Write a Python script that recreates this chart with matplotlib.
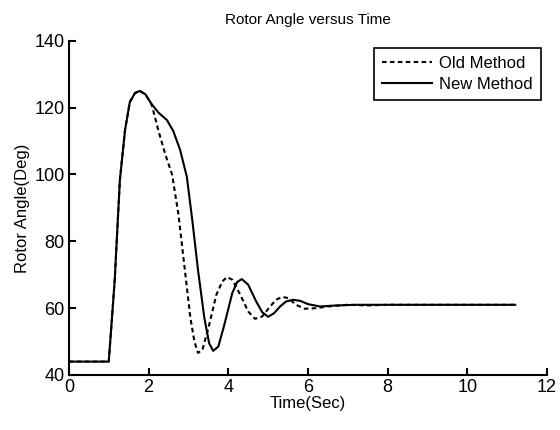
import matplotlib.pyplot as plt

# rotor angle (deg) vs time (sec)
t_old = [0.0, 1.0, 1.05, 1.15, 1.28, 1.41, 1.53, 1.66, 1.78, 1.92, 2.08, 2.25,
         2.42, 2.59, 2.75, 2.91, 3.05, 3.15, 3.24, 3.35, 3.5, 3.7, 3.85, 3.97,
         4.1, 4.3, 4.5, 4.67, 4.85, 5.05, 5.2, 5.35, 5.5, 5.7, 5.92, 6.2, 6.5,
         7.0, 7.5, 8.0, 9.0, 10.0, 11.2]
a_old = [44.0, 44.0, 52.0, 68.4, 98.4, 113.4, 121.7, 124.4, 125.0, 124.0, 120.8, 113.0,
         106.0, 100.0, 88.0, 71.4, 57.0, 50.0, 46.6, 47.5, 54.0, 64.0, 68.0, 69.3,
         68.5, 64.0, 59.0, 56.8, 57.5, 60.5, 62.5, 63.4, 63.0, 61.0, 59.8, 60.0, 60.5,
         61.0, 60.8, 61.0, 61.0, 61.0, 61.0]

t_new = [0.0, 1.0, 1.05, 1.15, 1.28, 1.41, 1.53, 1.66, 1.78, 1.92, 2.08, 2.25,
         2.46, 2.62, 2.79, 2.96, 3.1, 3.24, 3.4, 3.52, 3.62, 3.75, 3.9, 4.1,
         4.22, 4.34, 4.5, 4.7, 4.85, 5.0, 5.15, 5.3, 5.45, 5.62, 5.8, 6.0, 6.3,
         6.7, 7.2, 8.0, 9.0, 10.0, 11.2]
a_new = [44.0, 44.0, 52.0, 68.4, 98.4, 113.4, 121.7, 124.4, 125.0, 124.0, 121.0, 118.5,
         116.3, 113.0, 107.4, 99.3, 86.0, 71.4, 57.0, 49.5, 47.2, 48.5, 55.0, 64.5,
         67.8, 68.7, 67.0, 62.0, 58.8, 57.4, 58.5, 60.5, 62.0, 62.5, 62.2, 61.2, 60.5,
         60.8, 61.0, 61.0, 61.0, 61.0, 61.0]

plt.rcParams['font.family'] = ['Liberation Sans', 'DejaVu Sans']

fig = plt.figure(figsize=(5.6, 4.3), dpi=100)
ax = fig.add_axes([0.123, 0.128, 0.854, 0.777])

ax.plot(t_old, a_old, color='black', lw=1.5, ls=(0, (2.2, 1.6)), label='Old Method')
ax.plot(t_new, a_new, color='black', lw=1.5, ls='-', label='New Method')

ax.set_xlim(0, 12)
ax.set_ylim(40, 140)
ax.set_xticks(range(0, 13, 2))
ax.set_yticks(range(40, 141, 20))
ax.tick_params(labelsize=13, length=5, width=1.5, direction='in', pad=3)
for side in ('top', 'right'):
    ax.spines[side].set_visible(False)
for side in ('left', 'bottom'):
    ax.spines[side].set_linewidth(1.5)

ax.set_title('Rotor Angle versus Time', fontsize=11, pad=12)
ax.set_xlabel('Time(Sec)', fontsize=12, labelpad=0)
ax.set_ylabel('Rotor Angle(Deg)', fontsize=12, labelpad=3)

leg = ax.legend(loc='upper right', fontsize=12, fancybox=False, framealpha=1,
                edgecolor='black', handlelength=3.0, borderpad=0.5, labelspacing=0.35,
                handletextpad=0.4, borderaxespad=0, bbox_to_anchor=(0.987, 0.98))
leg.get_frame().set_linewidth(1.2)

fig.savefig('out.png', dpi=100)
